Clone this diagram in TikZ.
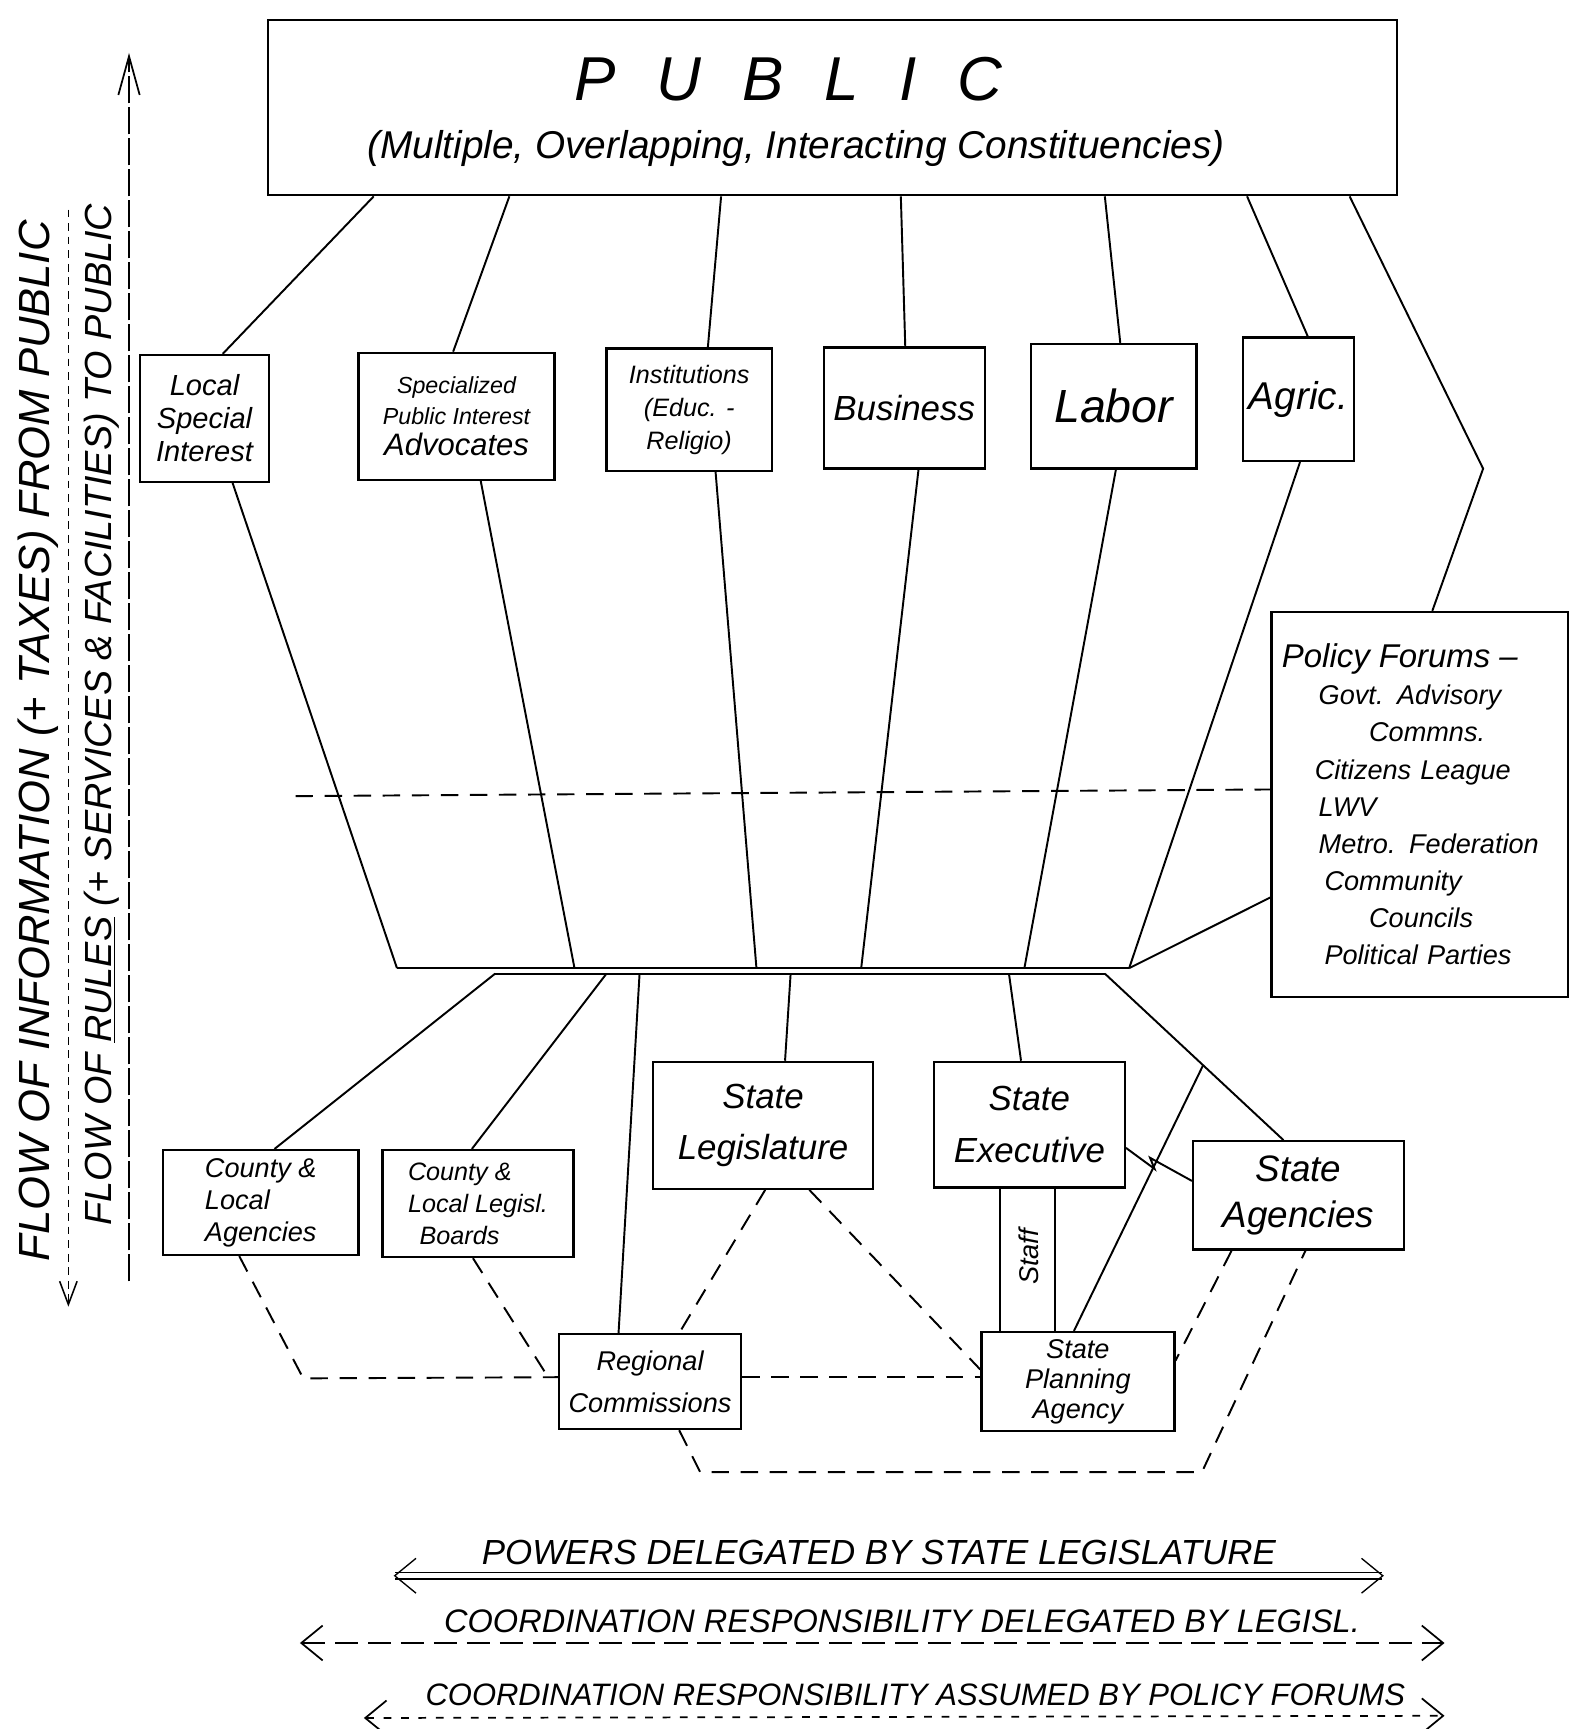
\documentclass[tikz,border=0pt]{standalone}
\usepackage{fontspec}
\setmainfont{Liberation Sans}
\usetikzlibrary{arrows.meta,calc}
\newcommand\hf[2]{\fontsize{#1}{#2}\selectfont\itshape}
\begin{document}
\begin{tikzpicture}[x=0.02cm,y=-0.02cm,
  box/.style={draw,line width=1.2pt,rectangle,inner sep=3pt,align=center},
  sz/.style 2 args={minimum width=#1*0.02cm,minimum height=#2*0.02cm},
  ln/.style={line width=1pt},
  dl/.style={line width=1pt,dash pattern=on 9pt off 6pt},
  barb/.tip={Straight Barb[length=11pt,width=18pt]}]
\fill[white] (0,0) rectangle (1428,1568);
\useasboundingbox (0,0) rectangle (1428,1568);

% PUBLIC
\node[box,sz={1024}{159}] (pub) at (755,97.5) {};
\node[font=\hf{32}{36}] (pubt) at (715,72) {P\hspace{21pt}U\hspace{21pt}B\hspace{21pt}L\hspace{21pt}I\hspace{21pt}C};
\node[font=\hf{20}{22}] (pubs) at (722,135) {(Multiple, Overlapping, Interacting Constituencies)};

% row 1
\node[box,sz={117}{115},font=\hf{15}{17}] (loc) at (185.5,379.5) {Local\\Special\\Interest};
\node[box,sz={178}{115},font=\hf{12}{16}] (spec) at (414,377.5) {Specialized\\Public Interest\\{\hf{16}{18}Advocates}};
\node[box,sz={150}{111},font=\hf{13}{17}] (inst) at (625,371.5) {Institutions\\(Educ. -\\Religio)};
\node[box,sz={146}{110},font=\hf{18}{20}] (bus) at (820,370) {Business};
\node[box,sz={150}{113},font=\hf{24}{26}] (lab) at (1010,368.5) {Labor};
\node[box,sz={101}{112},font=\hf{20}{22}] (agr) at (1177.5,362) {Agric.};

% policy forums
\node[box,sz={269}{349},align=left,text width=5cm,inner xsep=5.4pt,font=\hf{14}{19.2}] (pol) at (1287.5,729.5)
 {{\hf{17}{19}Policy Forums –}\\
  \hspace*{19pt}Govt. Advisory\\
  \hspace*{45pt}Commns.\\
  \hspace*{17pt}Citizens League\\
  \hspace*{19pt}LWV\\
  \hspace*{19pt}Metro. Federation\\
  \hspace*{22pt}Community\\
  \hspace*{45pt}Councils\\
  \hspace*{22pt}Political Parties};

% bottom boxes
\node[box,sz={177}{95},font=\hf{14}{16.5},align=left] (cla) at (236.5,1090.5) {County \&\\Local\\Agencies};
\node[box,sz={173}{97},font=\hf{13}{16.5},align=left] (clb) at (433.5,1091.5) {County \&\\Local Legisl.\\\hspace*{6pt}Boards};
\node[box,sz={200}{115},font=\hf{18}{26}] (sleg) at (692,1020.5) {State\\Legislature};
\node[box,sz={173}{114},font=\hf{18}{27}] (sexe) at (933.5,1020) {State\\Executive};
\node[box,sz={191}{98},font=\hf{19}{24}] (sag) at (1177.5,1084) {State\\Agencies};
\node[box,sz={165}{86},font=\hf{14}{22}] (reg) at (589.5,1253) {Regional\\Commissions};
\node[box,sz={175}{90},font=\hf{14}{15.5}] (spa) at (977.5,1253) {State\\Planning\\Agency};
\node[rotate=90,font=\hf{14}{16}] (staff) at (933,1140) {Staff};

% public to row 1
\coordinate (elb) at (1345,425);
\draw[ln] ($(pub.south west)+(97,0)$) -- ($(loc.north west)+(76,0)$);
\draw[ln] ($(pub.south west)+(220,0)$) -- ($(spec.north west)+(87,0)$);
\draw[ln] ($(pub.south west)+(412,0)$) -- ($(inst.north west)+(93,0)$);
\draw[ln] ($(pub.south west)+(575,0)$) -- ($(bus.north west)+(75,0)$);
\draw[ln] ($(pub.south west)+(760,0)$) -- ($(lab.north west)+(82,0)$);
\draw[ln] ($(pub.south west)+(889,0)$) -- ($(agr.north west)+(60,0)$);
\draw[ln] ($(pub.south west)+(982,0)$) -- (elb) -- ($(pol.north west)+(147,0)$);

% central bar
\coordinate (u1) at (360,878); \coordinate (u2) at (521,878); \coordinate (u3) at (686,878);
\coordinate (u4) at (781,878); \coordinate (u5) at (929,878); \coordinate (u6) at (1024,878);
\coordinate (l1) at (449,883); \coordinate (l2) at (550,883); \coordinate (l3) at (580,883);
\coordinate (l4) at (717,883); \coordinate (l5) at (915,883); \coordinate (l6) at (1002,883);
\draw[ln] (u1) -- (u6);
\draw[ln] (l1) -- (l6);

% row 1 to bar
\draw[ln] ($(loc.south west)+(85,0)$) -- (u1);
\draw[ln] ($(spec.south west)+(112,0)$) -- (u2);
\draw[ln] ($(inst.south west)+(100,0)$) -- (u3);
\draw[ln] ($(bus.south west)+(87,0)$) -- (u4);
\draw[ln] ($(lab.south west)+(78,0)$) -- (u5);
\draw[ln] ($(agr.south west)+(53,0)$) -- (u6);
\draw[ln] ($(pol.north west)+(0,260)$) -- (u6);

% dashed horizontal
\coordinate (dh) at (268,722);
\draw[dl] (dh) -- ($(pol.north west)+(0,162)$);

% bar to bottom boxes
\draw[ln] (l1) -- ($(cla.north west)+(102,0)$);
\draw[ln] (l2) -- ($(clb.north west)+(82,0)$);
\draw[ln] (l3) -- ($(reg.north west)+(55,0)$);
\draw[ln] (l4) -- ($(sleg.north west)+(121,0)$);
\draw[ln] (l5) -- ($(sexe.north west)+(80,0)$);
\draw[ln] (l6) -- ($(sag.north west)+(83,0)$) coordinate[pos=0.55] (jn);
\draw[ln] ($(spa.north west)+(85,0)$) -- (jn);

% staff
\draw[ln] ($(sexe.south west)+(61,0)$) -- ($(spa.north west)+(18,0)$);
\draw[ln] ($(sexe.south west)+(111,0)$) -- ($(spa.north west)+(68,0)$);

% zigzag executive - agencies
\coordinate (z1) at (1047,1060); \coordinate (z2) at (1043,1050);
\draw[ln] ($(sexe.north east)+(0,79)$) -- (z1) -- (z2) -- ($(sag.north west)+(0,37)$);

% dashed lower connections
\draw[dl] ($(sleg.south west)+(103,0)$) -- ($(reg.north west)+(110,0)$);
\draw[dl] ($(sleg.south west)+(143,0)$) -- ($(spa.north west)+(0,35)$);
\coordinate (c1) at (275,1250);
\draw[dl] ($(cla.south west)+(70,0)$) -- (c1) -- ($(reg.north west)+(0,40)$);
\draw[dl] ($(clb.south west)+(83,0)$) -- ($(reg.north west)+(-12,35)$);
\draw[dl] ($(reg.north east)+(0,40)$) -- ($(spa.north west)+(0,42)$);
\coordinate (c2) at (635,1335); \coordinate (c3) at (1090,1335);
\draw[dl] ($(reg.south west)+(110,0)$) -- (c2) -- (c3) -- ($(sag.south west)+(103,0)$);
\draw[dl] ($(sag.south west)+(36,0)$) -- ($(spa.north east)+(0,27)$);

% left axes
\coordinate (ot) at (62,190); \coordinate (ob) at (62,1185);
\draw[line width=0.8pt,dash pattern=on 4pt off 3pt,-{Straight Barb[length=12pt,width=9pt]}] (ot) -- (ob);
\coordinate (ib) at (117,1162); \coordinate (it) at (117,48);
\draw[line width=0.9pt,dash pattern=on 14pt off 2pt,-{Straight Barb[length=20pt,width=11pt]}] (ib) -- (it);
\node[rotate=90,font=\hf{22.5}{24}] (flowin) at (35,672) {FLOW OF INFORMATION (+ TAXES) FROM PUBLIC};
\node[rotate=90,font=\hf{19.5}{21}] (flowru) at (92,648) {FLOW OF \underline{RULES} (+ SERVICES \& FACILITIES) TO PUBLIC};

% bottom arrows
\node[font=\hf{18}{20}] (pw) at (797,1408) {POWERS DELEGATED BY STATE LEGISLATURE};
\node[font=\hf{16.8}{18}] (cd) at (818,1470) {COORDINATION RESPONSIBILITY DELEGATED BY LEGISL.};
\node[font=\hf{16}{17}] (ca) at (830,1537) {COORDINATION RESPONSIBILITY ASSUMED BY POLICY FORUMS};
\coordinate (p1) at (357,1429); \coordinate (p2) at (1255,1429);
\draw[double,double distance=2.5pt,line width=0.7pt,barb-barb] (p1) -- (p2);
\coordinate (q1) at (272,1490); \coordinate (q2) at (1310,1490);
\draw[line width=0.9pt,dash pattern=on 12pt off 5pt,barb-barb] (q1) -- (q2);
\coordinate (r1) at (330,1558); \coordinate (r2) at (1310,1556);
\draw[line width=0.9pt,dash pattern=on 4pt off 5pt,barb-barb] (r1) -- (r2);
\end{tikzpicture}
\end{document}
